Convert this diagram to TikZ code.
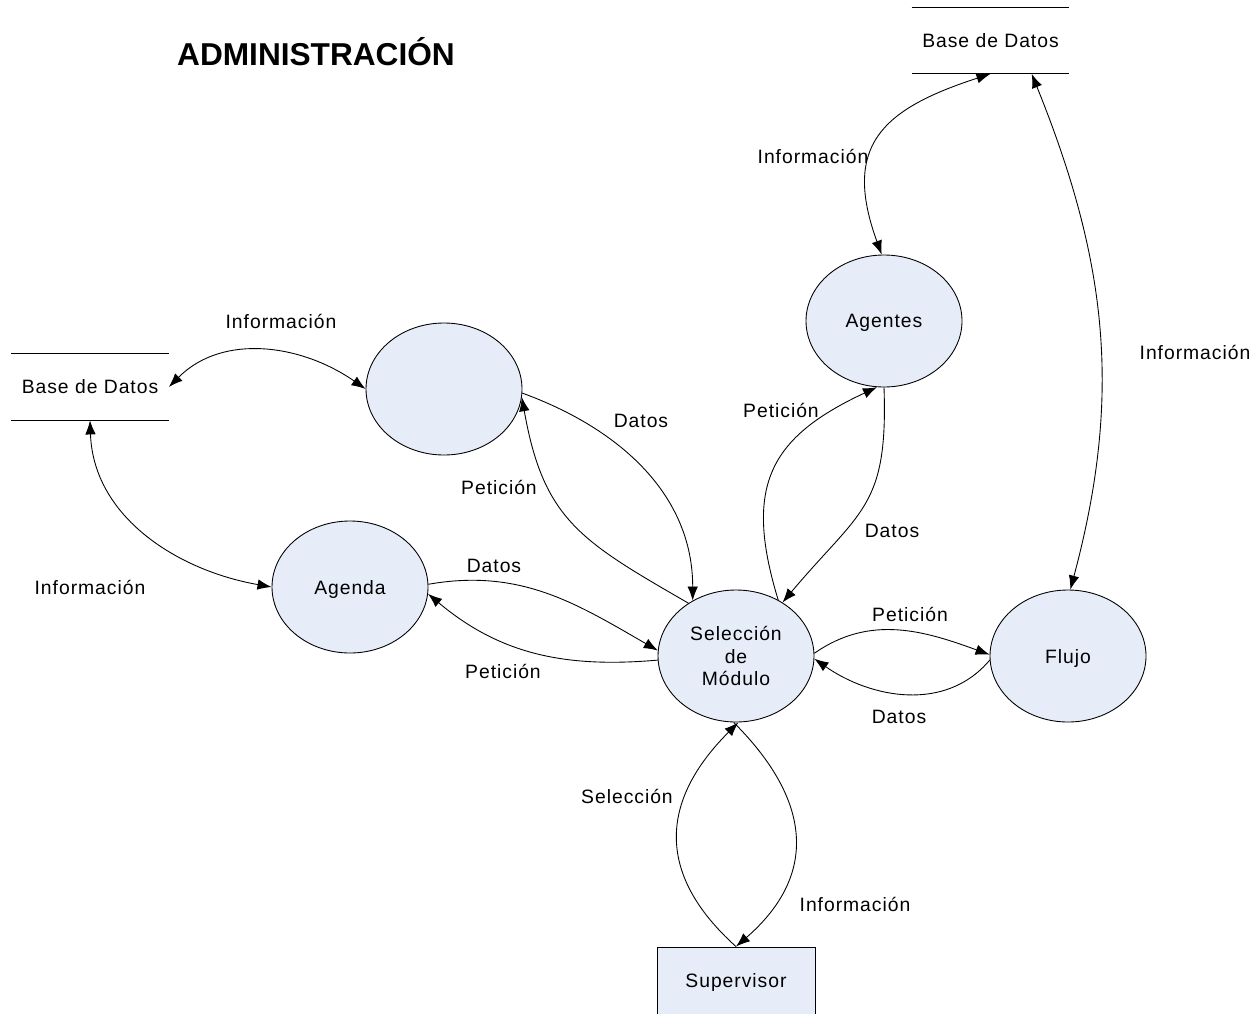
\documentclass[tikz,border=0pt]{standalone}
\usepackage{fontspec}
\setmainfont[LetterSpace=5]{Liberation Sans}
\newfontfamily\titlefont{Liberation Sans}
\usetikzlibrary{shapes.geometric,arrows.meta}
\definecolor{procfill}{RGB}{230,236,248}
\newcommand{\flowtip}{Latex[length=8pt,width=6pt]}

\begin{document}
\begin{tikzpicture}[x=.2mm,y=.2mm,
    font=\fontsize{11}{12.6}\selectfont,
    proc/.style={draw, ellipse, fill=procfill, line width=.5pt, inner sep=0pt,
                 minimum width=31.2mm, minimum height=26.4mm, align=center, text depth=0pt},
    store/.style={inner sep=0pt, minimum width=31.4mm, minimum height=13.2mm},
    actor/.style={draw, rectangle, fill=procfill, line width=.5pt, inner sep=0pt,
                  minimum width=31.6mm, minimum height=14mm},
    flow/.style={line width=.5pt, -{\flowtip}},
    dflow/.style={line width=.5pt, {\flowtip}-{\flowtip}}]
        \useasboundingbox (0,0) rectangle (1256,-1013);

        \node (title) at (316,-52) {\titlefont\fontsize{18}{20}\selectfont\bfseries ADMINISTRACIÓN};

        % procesos
        \node (e1)  at (444,-389) [proc] {};
        \node (ag)  at (884,-321) [proc] {Agentes};
        \node (ad)  at (350,-587) [proc] {Agenda};
        \node (sel) at (736,-656) [proc] {Selección\\de\\Módulo};
        \node (fl)  at (1068,-656) [proc] {Flujo};
        \node (sup) at (736,-982) [actor] {Supervisor};

        % almacenes
        \node (db1) at (90,-387) [store] {Base de Datos};
        \node (db2) at (990.5,-40.5) [store] {Base de Datos};
        \foreach \s in {db1,db2}
                 {
                   \draw[line width=.5pt] (\s.north west) -- (\s.north east)
                                          (\s.south west) -- (\s.south east);
                 }

        % flujos
        \draw[dflow] (db1.east) to[out=45,in=145] (e1.180);
        \draw[dflow] (db1.south) to[out=-88,in=170] (ad.180);
        \draw[flow] (e1.-3) to[out=-20,in=90] (sel.128);
        \draw[flow] (sel.132) to[out=150,in=-80,looseness=1.2] (e1.-6);
        \draw[flow] (ad.2) to[out=10,in=150] (sel.176);
        \draw[flow] (sel.183) to[out=185,in=-40] (ad.-5);
        \draw[flow] (sel.53) to[out=107,in=-155,looseness=1.3] (ag.264);
        \draw[flow] (ag.270) to[out=-88,in=50,looseness=1.3] (sel.49);
        \draw[dflow] (db2.south) to[out=198,in=110,looseness=1.4] (ag.92);
        \draw[dflow] (db2.-39) to[out=-68,in=75] (fl.88);
        \draw[flow] (sel.2) to[out=35,in=160] (fl.179);
        \draw[flow] (fl.183) to[out=-130,in=-35] (sel.-2);
        \draw[flow] (sup.north) to[out=138,in=-135,looseness=1.25] (sel.272);
        \draw[flow] (sel.268) to[out=-45,in=41,looseness=1.25] (sup.north);

        % etiquetas
        \node (tInfoA) at (281,-321) {Información};
        \node (tInfoB) at (90,-587) {Información};
        \node (tDatA)  at (641,-421) {Datos};
        \node (tPetA)  at (499,-487) {Petición};
        \node (tDatB)  at (494,-566) {Datos};
        \node (tPetB)  at (503,-671) {Petición};
        \node (tPetC)  at (781,-410) {Petición};
        \node (tDatC)  at (892,-531) {Datos};
        \node (tInfoC) at (813,-156) {Información};
        \node (tInfoD) at (1195,-352) {Información};
        \node (tPetD)  at (910,-614) {Petición};
        \node (tDatD)  at (899,-717) {Datos};
        \node (tSel)   at (627,-796) {Selección};
        \node (tInfoE) at (855,-904) {Información};
\end{tikzpicture}
\end{document}
